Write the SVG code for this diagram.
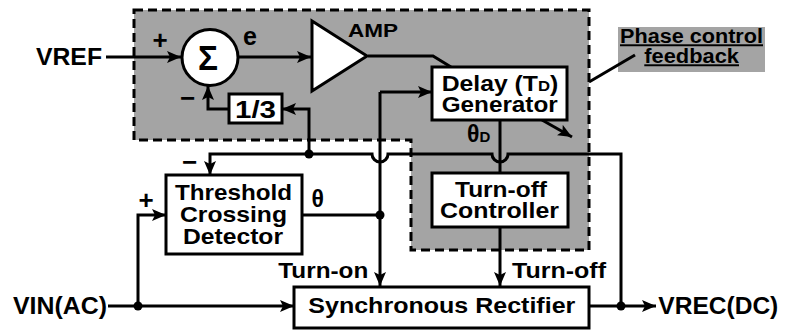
<svg xmlns="http://www.w3.org/2000/svg" width="785" height="333" viewBox="0 0 785 333">
<style>
.t{font-family:"Liberation Sans",Arial,sans-serif;font-weight:bold;fill:#000}
.box{fill:#fff;stroke:#000;stroke-width:3}
.w{fill:none;stroke:#000;stroke-width:3}
.dot{fill:#000}
.region{fill:#a4a4a4;stroke:#000;stroke-width:3;stroke-dasharray:9 5}
</style>
<defs>
<marker id="ah" viewBox="0 0 14 12" markerWidth="14" markerHeight="12" refX="14" refY="6" orient="auto" markerUnits="userSpaceOnUse">
<path d="M0,0 L14,6 L0,12 L3,6 z" fill="#000"/>
</marker>
</defs>
<rect width="785" height="333" fill="#fff"/>
<g id="phase-control-region">
<path class="region" d="M134,10 H589 V250 H411 V140 H134 Z"/>
</g>
<g id="phase-label">
<rect x="618" y="27" width="147" height="45" fill="#a4a4a4"/>
<text class="t" x="620" y="43.3" font-size="19.5" textLength="143" lengthAdjust="spacingAndGlyphs" text-decoration="underline">Phase control</text>
<text class="t" x="644.3" y="63.3" font-size="19.5" textLength="94.7" lengthAdjust="spacingAndGlyphs" text-decoration="underline">feedback</text>
</g>
<g id="connectors">
<path class="w" d="M106,57 H181" marker-end="url(#ah)"/>
<path class="w" d="M238,57 H311" marker-end="url(#ah)"/>
<path class="w" d="M368,56 H433 L451,67"/>
<path class="w" d="M380,92 H432" marker-end="url(#ah)"/>
<path class="w" d="M380,92 V286" marker-end="url(#ah)"/>
<path class="w" d="M302,215 H380"/>
<path class="w" d="M138,306 V215 H166" marker-end="url(#ah)"/>
<path class="w" d="M108,306 H294" marker-end="url(#ah)"/>
<path class="w" d="M589,306 H656" marker-end="url(#ah)"/>
<path class="w" d="M621,306 V154 H508 A8,8 0 0 1 492,154 H388 A8,8 0 0 1 372,154 H210 V175" marker-end="url(#ah)"/>
<path class="w" d="M309,154 V109 H282" marker-end="url(#ah)"/>
<path class="w" d="M229,109 H208 V86" marker-end="url(#ah)"/>
<path class="w" d="M500,120 V173"/>
<path class="w" d="M500,227 V286" marker-end="url(#ah)"/>
<path class="w" d="M542,120 L572,137" marker-end="url(#ah)"/>
<path class="w" d="M589,82 L635,55"/>
<circle class="dot" cx="380" cy="215" r="4.5"/>
<circle class="dot" cx="309" cy="154" r="4.5"/>
<circle class="dot" cx="138" cy="306" r="4.5"/>
<circle class="dot" cx="621" cy="306" r="4.5"/>
</g>
<g id="vref">
<text class="t" x="36" y="65" font-size="24" textLength="66" lengthAdjust="spacingAndGlyphs">VREF</text>
</g>
<g id="summer">
<circle cx="210" cy="57.5" r="28" fill="#fff" stroke="#000" stroke-width="3"/>
<text class="t" x="198" y="70" font-size="35" textLength="20" lengthAdjust="spacingAndGlyphs">Σ</text>
<text class="t" x="160" y="49" font-size="26" text-anchor="middle">+</text>
<text class="t" x="187.5" y="106.5" font-size="26" text-anchor="middle">−</text>
<text class="t" x="243" y="45" font-size="25">e</text>
</g>
<g id="amp">
<polygon points="312,21 312,91 367,56" fill="#fff" stroke="#000" stroke-width="3" stroke-linejoin="miter"/>
<text class="t" x="348" y="36.7" font-size="19" textLength="50" lengthAdjust="spacingAndGlyphs">AMP</text>
</g>
<g id="div3">
<rect class="box" x="229" y="94" width="53" height="29"/>
<text class="t" x="235" y="118" font-size="24" textLength="41" lengthAdjust="spacingAndGlyphs">1/3</text>
</g>
<g id="delay-generator">
<rect class="box" x="432" y="67" width="135" height="53"/>
<text class="t" x="441.7" y="90.7" font-size="21.5" textLength="116.6" lengthAdjust="spacingAndGlyphs">Delay (T<tspan font-size="14.5">D</tspan>)</text>
<text class="t" x="441.7" y="111.7" font-size="21.5" textLength="116" lengthAdjust="spacingAndGlyphs">Generator</text>
<text class="t" x="467" y="141.7" font-size="23">θ<tspan font-size="15">D</tspan></text>
</g>
<g id="threshold-detector">
<rect class="box" x="166" y="175" width="136" height="79"/>
<text class="t" x="175" y="199.5" font-size="21.5" textLength="117" lengthAdjust="spacingAndGlyphs">Threshold</text>
<text class="t" x="180" y="222" font-size="21.5" textLength="107" lengthAdjust="spacingAndGlyphs">Crossing</text>
<text class="t" x="183" y="244" font-size="21.5" textLength="100" lengthAdjust="spacingAndGlyphs">Detector</text>
<text class="t" x="146" y="209" font-size="26" text-anchor="middle">+</text>
<text class="t" x="189.5" y="170.5" font-size="26" text-anchor="middle">−</text>
<text class="t" x="311.5" y="207.3" font-size="23">θ</text>
</g>
<g id="turnoff-controller">
<rect class="box" x="432" y="173" width="136" height="54"/>
<text class="t" x="455" y="197" font-size="21.5" textLength="92" lengthAdjust="spacingAndGlyphs">Turn-off</text>
<text class="t" x="440" y="218.3" font-size="21.5" textLength="119" lengthAdjust="spacingAndGlyphs">Controller</text>
</g>
<g id="sync-rectifier">
<rect class="box" x="294" y="287" width="295" height="41"/>
<text class="t" x="308.3" y="313.3" font-size="21.5" textLength="267" lengthAdjust="spacingAndGlyphs">Synchronous Rectifier</text>
<text class="t" x="278.3" y="278.3" font-size="21.5" textLength="90" lengthAdjust="spacingAndGlyphs">Turn-on</text>
<text class="t" x="512" y="278.3" font-size="21.5" textLength="94" lengthAdjust="spacingAndGlyphs">Turn-off</text>
</g>
<g id="vin">
<text class="t" x="13" y="314" font-size="24" textLength="94" lengthAdjust="spacingAndGlyphs">VIN(AC)</text>
</g>
<g id="vrec">
<text class="t" x="658.3" y="314" font-size="24" textLength="120" lengthAdjust="spacingAndGlyphs">VREC(DC)</text>
</g>
</svg>
